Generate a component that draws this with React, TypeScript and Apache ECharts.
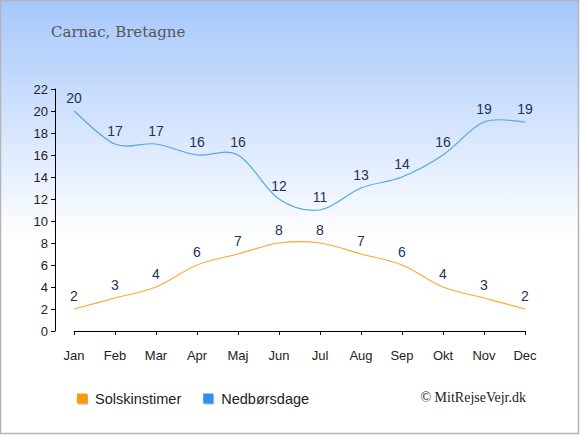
import React, { useEffect, useRef } from "react";
import * as echarts from "echarts";

const months = ["Jan", "Feb", "Mar", "Apr", "Maj", "Jun", "Jul", "Aug", "Sep", "Okt", "Nov", "Dec"];
const sunHours = [2, 3, 4, 6, 7, 8, 8, 7, 6, 4, 3, 2];
const rainDays = [20, 17, 17, 16, 16, 12, 11, 13, 14, 16, 19, 19];
const seriesNames = ["Solskinstimer", "Nedbørsdage"];
const legendColors = ["#ff9900", "#2e8ff0"];
const lineColors = ["#ffa830", "#55a6ea"];
const titleText = "Carnac, Bretagne";
const copyright = "© MitRejseVejr.dk";

function splinePath(pts: number[][]): string {
  let d = `M${pts[0][0]},${pts[0][1]}`;
  for (let i = 0; i < pts.length - 1; i++) {
    const p0 = pts[i - 1] || pts[i];
    const p1 = pts[i];
    const p2 = pts[i + 1];
    const p3 = pts[i + 2] || pts[i + 1];
    const c1x = p1[0] + (p2[0] - p0[0]) / 6;
    const c1y = p1[1] + (p2[1] - p0[1]) / 6;
    const c2x = p2[0] - (p3[0] - p1[0]) / 6;
    const c2y = p2[1] - (p3[1] - p1[1]) / 6;
    d += ` C${c1x},${c1y} ${c2x},${c2y} ${p2[0]},${p2[1]}`;
  }
  return d;
}

function curveSeries(values: number[], color: string) {
  return {
    type: "custom",
    silent: true,
    data: values.map((v, i) => [i, v]),
    clip: false,
    renderItem: (params: any, api: any) => {
      if (params.dataIndex !== 0) return null;
      const pts = values.map((v, i) => api.coord([i, v]));
      return {
        type: "path",
        shape: { pathData: splinePath(pts) },
        style: { fill: "none", stroke: color, lineWidth: 1.2 },
      };
    },
  };
}

export default function App() {
  const ref = useRef<HTMLDivElement>(null);
  useEffect(() => {
    document.body.style.margin = "0";
    const chart = echarts.init(ref.current!, null, { renderer: "svg" });
    const labelStyle = {
      show: true,
      position: "top" as const,
      distance: 6,
      color: "#1f3354",
      fontSize: 14,
      fontFamily: "Liberation Sans, Arial, sans-serif",
    };
    const labelSeries = (i: number, values: number[]) => ({
      name: seriesNames[i],
      type: "line",
      data: values,
      symbol: "circle",
      symbolSize: 0.01,
      color: legendColors[i],
      itemStyle: { color: legendColors[i] },
      lineStyle: { opacity: 0 },
      label: labelStyle,
      z: 3,
    });
    chart.setOption({
      animation: false,
      graphic: [
        {
          type: "rect",
          z: -10,
          silent: true,
          shape: { x: 0.5, y: 0.5, width: 578, height: 433 },
          style: {
            fill: new echarts.graphic.LinearGradient(0, 0, 0, 1, [
              { offset: 0, color: "#a6c7fc" },
              { offset: 0.55, color: "#ffffff" },
              { offset: 1, color: "#ffffff" },
            ]),
            stroke: "#b4b4b4",
            lineWidth: 1.5,
          },
        },
        {
          type: "text",
          left: 51,
          top: 24,
          style: {
            text: titleText,
            fill: "#555555",
            fontSize: 15,
            fontFamily: "DejaVu Serif, serif",
          },
        },
        {
          type: "text",
          right: 54,
          top: 390,
          style: {
            text: copyright,
            fill: "#222222",
            fontSize: 14,
            fontFamily: "Liberation Serif, serif",
          },
        },
      ],
      legend: {
        left: 72,
        top: 386,
        icon: "rect",
        itemWidth: 10,
        itemHeight: 10,
        itemGap: 22,
        itemStyle: {
          shadowColor: "rgba(0,0,0,0.3)",
          shadowOffsetX: 1,
          shadowOffsetY: 1,
          shadowBlur: 1,
        },
        textStyle: {
          fontSize: 14.5,
          color: "#222",
          fontFamily: "Liberation Sans, Arial, sans-serif",
          padding: [0, 0, 0, 3],
        },
        data: seriesNames,
      },
      grid: { left: 74, right: 55, top: 89, bottom: 104, containLabel: false },
      xAxis: {
        type: "category",
        data: months,
        boundaryGap: false,
        offset: 10,
        axisLine: { lineStyle: { color: "#000", width: 1 } },
        axisTick: { alignWithLabel: true, length: 4, lineStyle: { color: "#000" } },
        axisLabel: { color: "#222", fontSize: 13, margin: 8, fontFamily: "Liberation Sans, Arial, sans-serif" },
      },
      yAxis: {
        type: "value",
        min: 0,
        max: 22,
        interval: 2,
        offset: 19,
        axisLine: { show: true, lineStyle: { color: "#000", width: 1 } },
        axisTick: { show: true, length: 4, lineStyle: { color: "#000" } },
        splitLine: { show: false },
        axisLabel: { color: "#222", fontSize: 13, margin: 7, fontFamily: "Liberation Sans, Arial, sans-serif" },
      },
      series: [
        curveSeries(sunHours, lineColors[0]),
        curveSeries(rainDays, lineColors[1]),
        labelSeries(0, sunHours),
        labelSeries(1, rainDays),
      ],
    });
    return () => chart.dispose();
  }, []);
  return <div ref={ref} style={{ width: 580, height: 435 }} />;
}
